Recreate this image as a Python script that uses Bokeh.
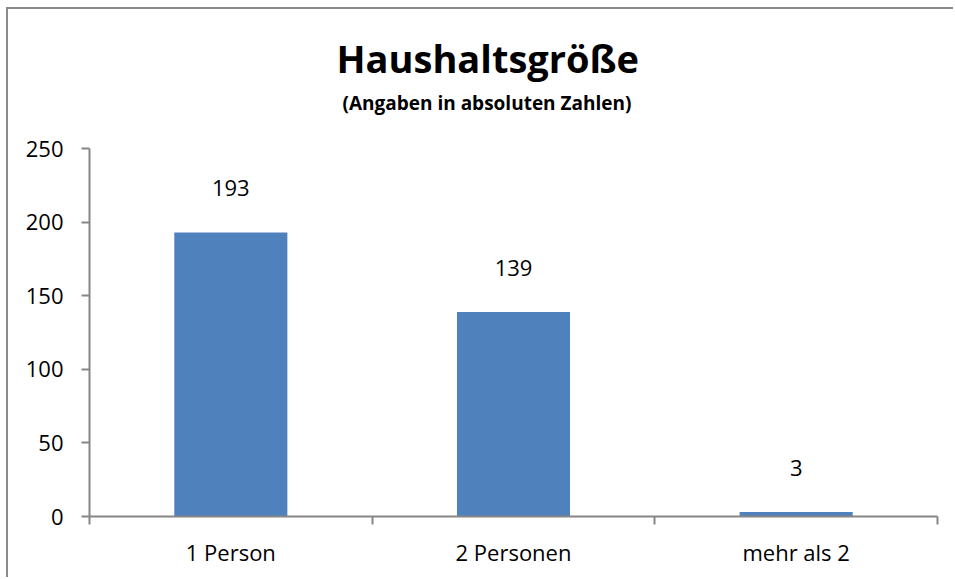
from bokeh.plotting import figure
from bokeh.models import Range1d, FixedTicker, Title, LabelSet, ColumnDataSource
from bokeh.core.properties import value
from bokeh.embed import file_html
from bokeh.resources import INLINE

categories = ["1 Person", "2 Personen", "mehr als 2"]
values = [193, 139, 3]
y_ticks = [0, 50, 100, 150, 200, 250]
title_text = "Haushaltsgröße"
subtitle_text = "(Angaben in absoluten Zahlen)"

xs = [i + 0.5 for i in range(len(categories))]
src = ColumnDataSource(dict(x=xs, top=values, label=[str(v) for v in values]))

FONT = "Open Sans"
AXIS = "#868686"

p = figure(width=947, height=570, output_backend="svg", toolbar_location=None,
           x_range=Range1d(0, len(categories)), y_range=Range1d(0, 250),
           min_border_left=81, min_border_right=18, min_border_top=139, min_border_bottom=63)
p.styles = {"border-left": "2px solid #8a8a8a", "border-top": "2px solid #8a8a8a",
            "margin-left": "6px", "margin-top": "7px"}
p.outline_line_color = None
p.grid.grid_line_color = None

p.vbar(x="x", top="top", width=0.4, source=src, fill_color="#4F81BD", line_color=None)

labels = LabelSet(x="x", y="top", text="label", source=src, text_align="center",
                  text_baseline="middle", y_offset=44, text_font_size="22px",
                  text_font=value(FONT), text_color="#000000")
p.add_layout(labels)

xa = p.xaxis[0]
xa.ticker = FixedTicker(ticks=xs, minor_ticks=list(range(len(categories) + 1)))
xa.major_label_overrides = {x: c for x, c in zip(xs, categories)}
xa.major_tick_out = 0
xa.major_tick_in = 0
xa.minor_tick_out = 8
xa.minor_tick_in = 0
xa.minor_tick_line_color = AXIS
xa.minor_tick_line_width = 2
xa.axis_line_color = AXIS
xa.axis_line_width = 2
xa.major_label_text_font = FONT
xa.major_label_text_font_size = "22px"
xa.major_label_text_color = "#000000"
xa.major_label_standoff = 12

ya = p.yaxis[0]
ya.ticker = FixedTicker(ticks=y_ticks)
ya.major_tick_out = 8
ya.major_tick_in = 0
ya.minor_tick_line_color = None
ya.major_tick_line_color = AXIS
ya.major_tick_line_width = 2
ya.axis_line_color = AXIS
ya.axis_line_width = 2
ya.major_label_text_font = FONT
ya.major_label_text_font_size = "22px"
ya.major_label_text_color = "#000000"
ya.major_label_standoff = 18

sub = Title(text=subtitle_text, text_font=FONT, text_font_size="19px",
            text_font_style="bold", align="left", offset=253, standoff=65,
            text_color="#000000")
main = Title(text=title_text, text_font=FONT, text_font_size="38px",
             text_font_style="bold", align="left", offset=247, standoff=-56,
             text_color="#000000")
p.add_layout(sub, "above")
p.add_layout(main, "above")

open("out.html", "w").write(file_html(p, INLINE))
